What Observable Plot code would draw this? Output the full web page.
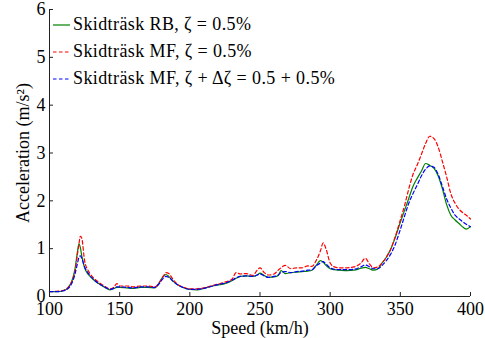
<!DOCTYPE html>
<html>
<head>
<meta charset="utf-8">
<script src="https://cdn.jsdelivr.net/npm/d3@7"></script>
<script src="https://cdn.jsdelivr.net/npm/@observablehq/plot@0.6"></script>
<style>
  html, body { margin: 0; padding: 0; background: #fff; }
  #wrap { position: relative; width: 485px; height: 338px; }
  #legend { position: absolute; left: 53px; top: 11px; font-family: "Liberation Serif", "Times New Roman", Times, "DejaVu Serif", serif; font-size: 18px; letter-spacing: 0.4px; color: #000; }
  #legend .row { display: flex; align-items: center; height: 27px; white-space: nowrap; }
  #legend svg { margin-right: 3px; }
</style>
</head>
<body>
<div id="wrap"><div id="legend"></div></div>
<script>
const speed = [100,105,110,113,116,118,120,121,122,123,125,128,131,135,140,143,146,148,150,155,160,165,170,175,178,181,183,185,188,191,195,200,205,210,215,220,225,230,233,236,240,245,248,250,253,256,260,263,265,268,272,276,280,284,287,290,293,295,297,300,303,307,312,317,322,325,328,331,334,337,340,343,346,350,353,356,359,362,365,368,371,374,377,380,383,386,389,392,395,397,400];

const rbValues = [0.10,0.10,0.12,0.18,0.33,0.55,0.95,1.10,1.02,0.85,0.60,0.45,0.36,0.27,0.18,0.14,0.17,0.19,0.19,0.18,0.17,0.19,0.19,0.18,0.28,0.42,0.46,0.42,0.32,0.25,0.19,0.15,0.14,0.17,0.21,0.24,0.27,0.33,0.38,0.42,0.43,0.42,0.45,0.49,0.44,0.40,0.41,0.44,0.54,0.48,0.50,0.51,0.52,0.53,0.55,0.65,0.75,0.72,0.65,0.58,0.56,0.55,0.54,0.55,0.59,0.61,0.58,0.55,0.58,0.70,0.82,0.98,1.20,1.55,1.80,2.05,2.30,2.47,2.62,2.78,2.74,2.68,2.52,2.25,1.92,1.70,1.60,1.52,1.44,1.41,1.46];

const mfValues = [0.10,0.11,0.13,0.18,0.32,0.50,0.90,1.10,1.26,1.22,0.75,0.52,0.40,0.30,0.20,0.16,0.20,0.27,0.22,0.22,0.20,0.22,0.22,0.20,0.28,0.42,0.50,0.48,0.36,0.26,0.20,0.16,0.16,0.18,0.22,0.26,0.30,0.36,0.50,0.47,0.48,0.44,0.55,0.60,0.50,0.45,0.47,0.55,0.60,0.65,0.58,0.60,0.60,0.64,0.63,0.75,0.95,1.12,1.00,0.70,0.62,0.60,0.60,0.62,0.70,0.80,0.68,0.60,0.62,0.70,0.82,0.98,1.22,1.60,1.90,2.25,2.55,2.75,2.97,3.20,3.35,3.30,3.12,2.82,2.50,2.15,1.95,1.82,1.74,1.70,1.62];

const mfDampValues = [0.10,0.10,0.12,0.16,0.28,0.45,0.70,0.82,0.85,0.80,0.62,0.47,0.37,0.27,0.19,0.15,0.17,0.20,0.20,0.19,0.18,0.20,0.20,0.19,0.26,0.38,0.42,0.40,0.32,0.25,0.19,0.15,0.15,0.17,0.21,0.25,0.28,0.34,0.39,0.42,0.43,0.42,0.45,0.47,0.43,0.40,0.42,0.45,0.50,0.52,0.50,0.52,0.53,0.55,0.56,0.64,0.70,0.73,0.68,0.60,0.57,0.56,0.56,0.57,0.62,0.66,0.62,0.58,0.58,0.65,0.75,0.88,1.06,1.40,1.68,1.95,2.15,2.33,2.52,2.66,2.73,2.70,2.55,2.30,2.04,1.85,1.70,1.62,1.55,1.51,1.46];

const seriesNames = ["Skidträsk RB, ζ = 0.5%", "Skidträsk MF, ζ = 0.5%", "Skidträsk MF, ζ + Δζ = 0.5 + 0.5%"];
const seriesColors = ["#008000", "#ff0000", "#0000ff"];
const seriesDash = [null, "3.5,2.5", "3.5,2.5"];
const seriesValues = [rbValues, mfValues, mfDampValues];

const xTicks = [100,150,200,250,300,350,400];
const yTicks = [0,1,2,3,4,5,6];

const font = '"Liberation Serif", "Times New Roman", Times, "DejaVu Serif", serif';

const lineMarks = seriesValues.map((vals, i) =>
  Plot.line(speed.map((s, j) => ({s, v: vals[j]})), {
    x: "s", y: "v",
    stroke: seriesColors[i],
    strokeWidth: 1.2,
    strokeDasharray: seriesDash[i],
    curve: "monotone-x"
  })
);

const chart = Plot.plot({
  width: 485,
  height: 338,
  marginLeft: 49,
  marginRight: 15,
  marginTop: 9,
  marginBottom: 42,
  style: { fontFamily: font, fontSize: "18px", color: "#000", background: "white" },
  x: { domain: [100, 400] },
  y: { domain: [0, 6] },
  marks: [
    Plot.axisX(xTicks, { tickSize: 0, tickPadding: 6, fontSize: 18, fontFamily: font, label: "Speed (km/h)", labelAnchor: "center", labelArrow: "none", labelOffset: 37 }),
    Plot.axisX(xTicks, { tickSize: -4, text: null, label: null, stroke: "#222" }),
    Plot.axisY(yTicks, { tickSize: 0, tickPadding: 4, fontSize: 18, fontFamily: font, label: "Acceleration (m/s²)", labelAnchor: "center", labelArrow: "none", labelOffset: 33 }),
    Plot.axisY(yTicks, { tickSize: -4, text: null, label: null, stroke: "#222" }),
    ...lineMarks,
    Plot.ruleX([100], { stroke: "#222", strokeWidth: 1 }),
    Plot.ruleY([0], { stroke: "#222", strokeWidth: 1 })
  ]
});

const wrap = document.getElementById("wrap");
wrap.insertBefore(chart, wrap.firstChild);

const legend = document.getElementById("legend");
seriesNames.forEach((name, i) => {
  const row = document.createElement("div");
  row.className = "row";
  row.innerHTML = `<svg width="17" height="6"><line x1="0" y1="3" x2="17" y2="3" stroke="${seriesColors[i]}" stroke-width="1.2" ${seriesDash[i] ? `stroke-dasharray="${seriesDash[i]}"` : ""}/></svg><span>${name}</span>`;
  legend.appendChild(row);
});
</script>
</body>
</html>
